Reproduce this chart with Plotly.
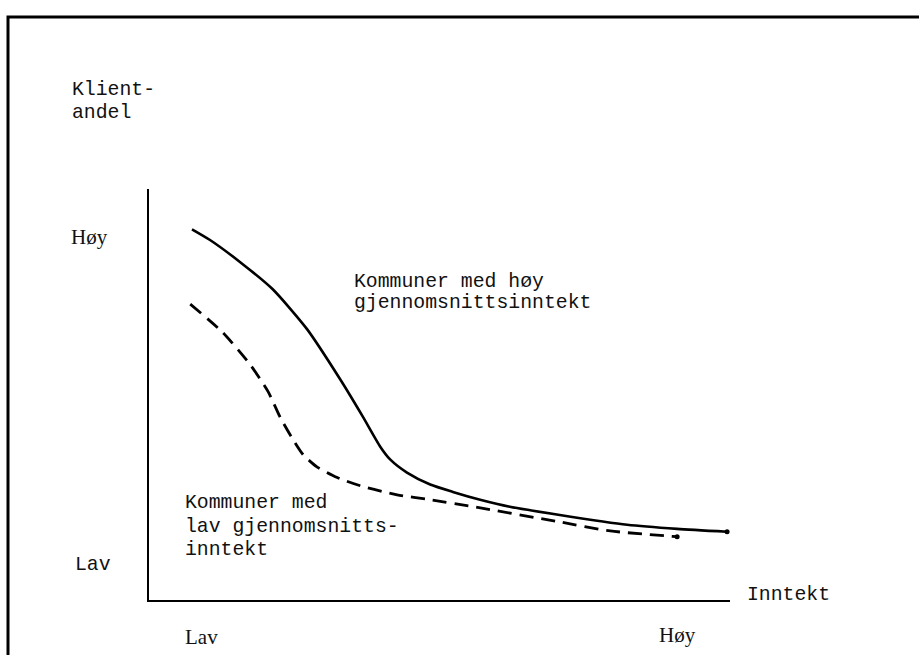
import plotly.graph_objects as go

# Income index (0 = lav, 100 = høy) and client share index (0 = lav, 100 = høy)
income_high = [7.4, 10.5, 15.7, 21.3, 27.2, 32.9, 36.8, 39.8, 41.5, 44.4, 48.4,
               52.3, 57.0, 62.1, 70.7, 82.3, 90.9, 99.5]
share_high = [90.2, 87.6, 82.2, 75.6, 65.9, 53.7, 44.6, 37.3, 34.2, 31.0, 28.1,
              26.3, 24.4, 22.7, 20.7, 18.3, 17.3, 16.6]

income_low = [7.1, 12.7, 17.4, 20.5, 22.6, 24.8, 26.5, 28.9, 32.4, 36.8, 42.7, 48.4,
              55.8, 70.7, 79.4, 90.9]
share_low = [72.0, 65.1, 57.3, 50.7, 44.4, 39.0, 35.4, 32.4, 29.8, 27.6, 25.6, 24.4,
             22.7, 19.0, 16.8, 15.4]

y_tick_labels = ["Høy", "Lav"]
x_tick_labels = ["Lav", "Høy"]
y_title_lines = ["Klient-", "andel"]
x_title = "Inntekt"
label_high_lines = ["Kommuner med høy", "gjennomsnittsinntekt"]
label_low_lines = ["Kommuner med", "lav gjennomsnitts-", "inntekt"]

W, H = 919, 655
L, R, T, B = 149, 730, 189, 600
FONT = dict(family="Liberation Mono, Courier New, monospace", size=19.8, color="#111")
FONT_SERIF = dict(family="Liberation Serif, Times New Roman, serif", size=21, color="#111")


def px(x):
    return (x - L) / (R - L)


def py(y):
    return (B - y) / (B - T)


fig = go.Figure()
fig.add_trace(go.Scatter(x=income_high, y=share_high, mode="lines",
                         line=dict(color="#000", width=2.6, shape="spline", smoothing=0.6),
                         showlegend=False, hoverinfo="skip"))
fig.add_trace(go.Scatter(x=income_low, y=share_low, mode="lines",
                         line=dict(color="#000", width=2.8, shape="spline", smoothing=0.6,
                                   dash="14px,8px"),
                         showlegend=False, hoverinfo="skip"))
fig.add_trace(go.Scatter(x=[income_high[-1], income_low[-1]], y=[share_high[-1], share_low[-1]],
                         mode="markers", marker=dict(color="#000", size=5),
                         showlegend=False, hoverinfo="skip"))

ann = []


def add(text, x, y, font=FONT):
    ann.append(dict(text=text, x=px(x), y=py(y), xref="paper", yref="paper",
                    xanchor="left", yanchor="middle", showarrow=False, font=font))


add(y_title_lines[0], 70, 90)
add(y_title_lines[1], 70, 113)
add(y_tick_labels[0], 69, 237, FONT_SERIF)
add(y_tick_labels[1], 73, 565)
add(label_high_lines[0], 352, 282)
add(label_high_lines[1], 352, 303)
add(label_low_lines[0], 183, 503)
add(label_low_lines[1], 183, 527)
add(label_low_lines[2], 183, 550)
add(x_title, 745, 595)
add(x_tick_labels[0], 183, 637, FONT_SERIF)
add(x_tick_labels[1], 657, 635, FONT_SERIF)

fig.update_layout(
    width=W, height=H, autosize=False,
    margin=dict(l=L, r=W - R, t=T, b=H - B, pad=0),
    paper_bgcolor="white", plot_bgcolor="white",
    annotations=ann,
    shapes=[dict(type="rect", xref="paper", yref="paper",
                 x0=px(8), x1=px(1000), y0=py(720), y1=py(17),
                 line=dict(color="#000", width=3), layer="below")],
    xaxis=dict(range=[0, 100], showline=True, linecolor="#000", linewidth=2,
               showgrid=False, zeroline=False, showticklabels=False, ticks=""),
    yaxis=dict(range=[0, 100], showline=True, linecolor="#000", linewidth=2,
               showgrid=False, zeroline=False, showticklabels=False, ticks=""),
)

fig.write_html("out.html", config={"displayModeBar": False},
               post_script="document.body.style.margin='0';document.body.style.padding='0';")
